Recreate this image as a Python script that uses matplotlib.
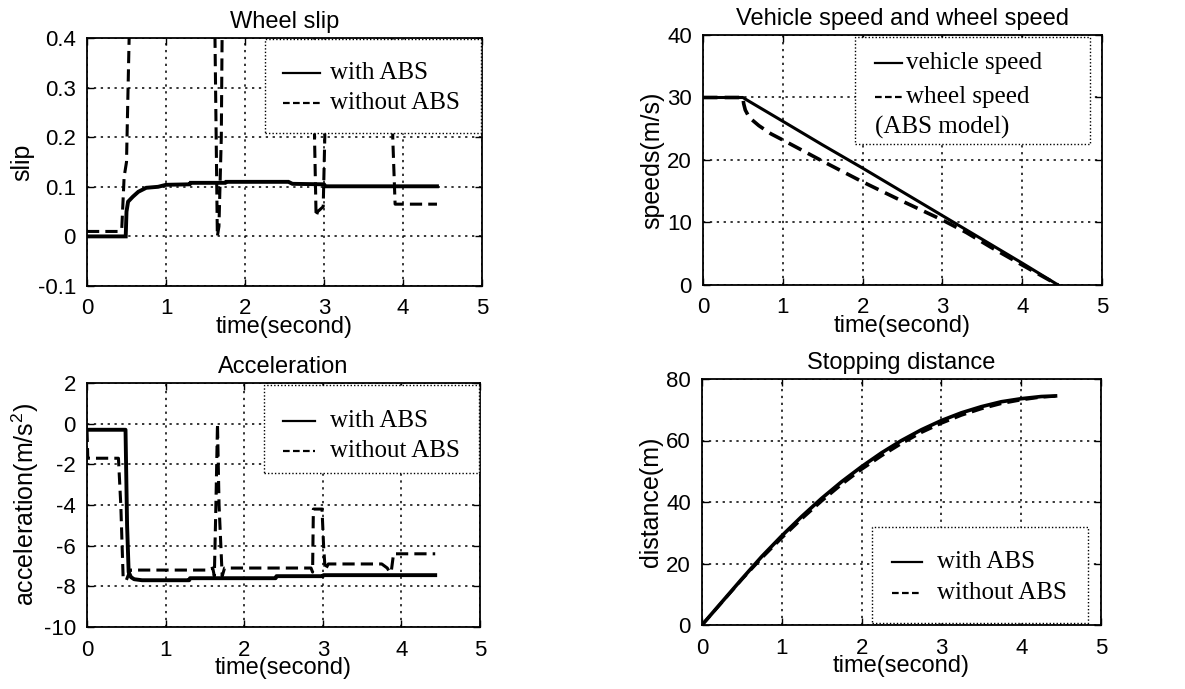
import matplotlib
matplotlib.use("Agg")
import matplotlib.pyplot as plt
from matplotlib.lines import Line2D
from matplotlib.patches import Rectangle

# ---------------- data ----------------
# Wheel slip
slip_t_abs = [0, 0.49, 0.50, 0.52, 0.58, 0.65, 0.75, 0.9, 1.0, 1.3, 1.31, 1.75, 1.76, 2.55, 2.6, 3.0, 3.02, 4.43]
slip_abs   = [0, 0.0, 0.05, 0.07, 0.08, 0.09, 0.098, 0.1, 0.104, 0.105, 0.108, 0.108, 0.11, 0.11, 0.106, 0.105, 0.101, 0.101]
slip_t_no = [0, 0.40, 0.44, 0.47, 0.50, 0.54, 0.56, 1.60, 1.62, 1.65, 1.67, 1.70, 1.74, 2.87, 2.88, 2.90, 2.92, 2.99, 3.01, 3.03, 3.85, 3.87, 3.90, 4.43]
slip_no   = [0.01, 0.01, 0.015, 0.12, 0.15, 0.45, 1.0, 1.0, 0.4, 0.0, 0.02, 0.2, 1.0, 1.0, 0.2, 0.04, 0.05, 0.06, 0.2, 1.0, 1.0, 0.2, 0.065, 0.065]

# Vehicle speed and wheel speed
spd_t_veh = [0, 0.5, 0.55, 1.0, 1.5, 2.0, 2.5, 3.0, 3.5, 4.0, 4.45]
spd_veh   = [30, 30, 29.6, 26.2, 22.4, 18.7, 14.9, 11.1, 7.3, 3.5, 0.0]
spd_t_whl = [0, 0.5, 0.51, 0.53, 0.58, 0.7, 0.85, 1.0, 1.5, 2.0, 2.5, 3.0, 3.3, 3.6, 4.0, 4.45]
spd_whl   = [30, 30, 29.0, 28.0, 26.8, 25.5, 24.2, 23.2, 19.8, 16.5, 13.4, 10.4, 8.4, 6.1, 3.2, 0.0]

# Acceleration
acc_t_abs = [0, 0.49, 0.51, 0.53, 0.56, 0.6, 0.7, 1.3, 1.31, 2.4, 2.41, 3.0, 3.01, 4.43]
acc_abs   = [-0.3, -0.3, -5.0, -7.3, -7.55, -7.65, -7.7, -7.7, -7.6, -7.6, -7.5, -7.5, -7.45, -7.45]
acc_t_no = [0, 0.01, 0.40, 0.43, 0.46, 0.50, 0.55, 1.55, 1.60, 1.62, 1.64, 1.66, 1.68, 1.72, 1.75, 2.85, 2.87,
            2.88, 2.99, 3.01, 3.03, 3.07, 3.75, 3.82, 3.85, 3.87, 3.90, 4.43]
acc_no   = [-0.3, -1.7, -1.7, -4.0, -7.6, -7.7, -7.2, -7.2, -7.1, -7.5, -4.0, 0.0, -4.0, -7.5, -7.1, -7.1, -7.3,
            -4.2, -4.2, -6.0, -7.2, -6.9, -6.9, -7.1, -7.3, -7.3, -6.4, -6.4]

# Stopping distance
dst_t = [0, 0.25, 0.5, 0.75, 1.0, 1.25, 1.5, 1.75, 2.0, 2.25, 2.5, 2.75, 3.0, 3.25, 3.5, 3.75, 4.0, 4.25, 4.43]
dst_abs = [0, 7.5, 15.0, 22.3, 29.0, 35.3, 41.2, 46.6, 51.5, 56.0, 60.0, 63.5, 66.5, 69.0, 71.0, 72.6, 73.6, 74.3, 74.5]
dst_no  = [0, 7.4, 14.8, 21.8, 28.3, 34.5, 40.3, 45.7, 50.6, 55.0, 59.0, 62.6, 65.6, 68.2, 70.3, 72.0, 73.2, 74.1, 74.4]

titles = ["Wheel slip", "Vehicle speed and wheel speed", "Acceleration", "Stopping distance"]
ylabels = ["slip", "speeds(m/s)", "acceleration(m/s$^2$)", "distance(m)"]
xlabel = "time(second)"
yticks_list = [[-0.1, 0, 0.1, 0.2, 0.3, 0.4], [0, 10, 20, 30, 40], [-10, -8, -6, -4, -2, 0, 2], [0, 20, 40, 60, 80]]
ytick_labels = [["-0.1", "0", "0.1", "0.2", "0.3", "0.4"], ["0", "10", "20", "30", "40"],
                ["-10", "-8", "-6", "-4", "-2", "0", "2"], ["0", "20", "40", "60", "80"]]
xticks = [0, 1, 2, 3, 4, 5]

# ---------------- figure ----------------
W, H = 1185, 689
fig = plt.figure(figsize=(W / 100, H / 100), dpi=100)
sans = "Liberation Sans"
serif = "Liberation Serif"
plt.rcParams["mathtext.fontset"] = "custom"
plt.rcParams["mathtext.rm"] = sans
plt.rcParams["mathtext.it"] = sans

def px_axes(l, t, r, b):
    return fig.add_axes([l / W, 1 - b / H, (r - l) / W, (b - t) / H])

boxes = [(87, 38, 482, 286), (703, 35, 1102, 285), (87, 383, 480, 627), (702, 379, 1101, 625)]
axs = [px_axes(*b) for b in boxes]

def style(ax, i):
    ax.set_xlim(0, 5)
    ax.set_ylim(yticks_list[i][0], yticks_list[i][-1])
    ax.set_xticks(xticks)
    ax.set_xticklabels([str(v) for v in xticks], fontfamily=sans, fontsize=16)
    ax.set_yticks(yticks_list[i])
    ax.set_yticklabels(ytick_labels[i], fontfamily=sans, fontsize=16)
    ax.tick_params(direction="in", length=5, width=1, top=True, right=True)
    ax.tick_params(axis="x", pad=9)
    ax.tick_params(axis="y", pad=8)
    ax.grid(True, color="black", linestyle=(0, (1.5, 3)), linewidth=1.1)
    for s in ax.spines.values():
        s.set_linewidth(1.3)
    ax.set_title(titles[i], fontfamily=sans, fontsize=17, pad=7)
    ax.set_xlabel(xlabel, fontfamily=sans, fontsize=17, labelpad=-2.5)
    ax.set_ylabel(ylabels[i], fontfamily=sans, fontsize=18, labelpad=2)

for i, ax in enumerate(axs):
    style(ax, i)

lw = 2.2
dash = (0, (4, 2))
ax = axs[0]
ax.plot(slip_t_abs, slip_abs, color="black", lw=lw + 0.6, solid_joinstyle="miter")
ax.plot(slip_t_no, slip_no, color="black", lw=lw, linestyle=dash)
ax = axs[1]
ax.plot(spd_t_veh, spd_veh, color="black", lw=lw)
ax.plot(spd_t_whl, spd_whl, color="black", lw=lw + 0.4, linestyle=dash)
ax = axs[2]
ax.plot(acc_t_abs, acc_abs, color="black", lw=lw + 0.6)
ax.plot(acc_t_no, acc_no, color="black", lw=lw, linestyle=dash)
ax = axs[3]
ax.plot(dst_t, dst_abs, color="black", lw=lw + 0.4)
ax.plot(dst_t, dst_no, color="black", lw=lw, linestyle=dash)

# ---------------- legends (dotted framed boxes) ----------------
def fx(x):
    return x / W

def fy(y):
    return 1 - y / H

def legend_box(box, entries, handle_x, text_x, extra=None):
    l, t, r, b = box
    rect = Rectangle((fx(l), fy(b)), fx(r) - fx(l), fy(t) - fy(b), transform=fig.transFigure,
                     facecolor="white", edgecolor="black", linestyle=(0, (1, 1.5)), linewidth=1.0, zorder=5)
    fig.add_artist(rect)
    for (y, style_, label) in entries:
        ln = Line2D([fx(handle_x[0]), fx(handle_x[1])], [fy(y), fy(y)], transform=fig.transFigure,
                    color="black", lw=1.6, linestyle=style_, zorder=6)
        fig.add_artist(ln)
        fig.text(fx(text_x), fy(y), label, fontfamily=serif, fontsize=18, va="center", ha="left", zorder=6)
    if extra:
        x, y, label = extra
        fig.text(fx(x), fy(y), label, fontfamily=serif, fontsize=18, va="center", ha="left", zorder=6)

legend_box((265, 39, 481, 133), [(73, "-", "with ABS"), (103, (0, (3, 1.5)), "without ABS")], (283, 320), 330)
legend_box((855, 37, 1090, 144), [(63, "-", "vehicle speed"), (97, (0, (3, 1.5)), "wheel speed")], (875, 902), 906,
           extra=(875, 127, "(ABS model)"))
legend_box((264, 385, 479, 473), [(421, "-", "with ABS"), (451, (0, (3, 1.5)), "without ABS")], (283, 315), 330)
legend_box((872, 527, 1088, 623), [(562, "-", "with ABS"), (593, (0, (3, 1.5)), "without ABS")], (892, 922), 937)

fig.savefig("out.png", dpi=100, facecolor="white")
